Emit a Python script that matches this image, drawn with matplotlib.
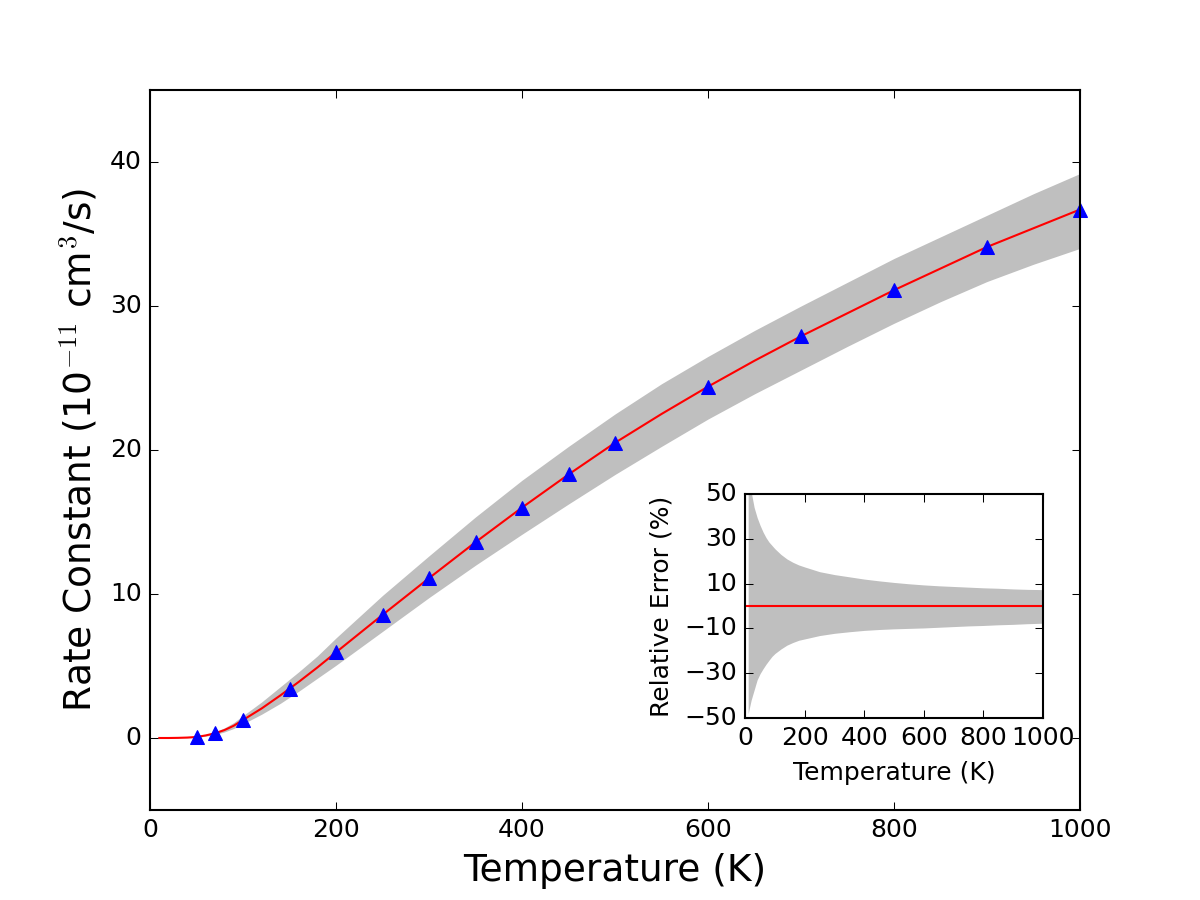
import numpy as np
import matplotlib
matplotlib.use("Agg")
import matplotlib.pyplot as plt

# measured rate constants (10^-11 cm^3/s)
T_pts = [50, 70, 100, 150, 200, 250, 300, 350, 400, 450, 500, 600, 700, 800, 900, 1000]
k_pts = [0.05, 0.35, 1.25, 3.4, 5.95, 8.55, 11.1, 13.6, 16.0, 18.3, 20.5, 24.4, 27.9, 31.1, 34.1, 36.7]

# fitted curve and its uncertainty band
T_fit = [10, 20, 30, 40, 50, 60, 70, 80, 90, 100, 120, 140, 160, 180, 200, 250, 300,
         350, 400, 450, 500, 550, 600, 650, 700, 750, 800, 850, 900, 950, 1000]
k_fit = [0.0, 0.0, 0.01, 0.03, 0.07, 0.18, 0.33, 0.55, 0.85, 1.25, 2.05, 2.95, 3.9, 4.9,
         5.95, 8.55, 11.1, 13.6, 16.0, 18.3, 20.5, 22.5, 24.4, 26.2, 27.9, 29.5, 31.1,
         32.6, 34.1, 35.4, 36.7]
k_hi = [0.0, 0.0, 0.015, 0.04, 0.10, 0.24, 0.43, 0.70, 1.07, 1.55, 2.5, 3.55, 4.6, 5.7,
        6.95, 9.9, 12.65, 15.35, 17.9, 20.25, 22.5, 24.6, 26.5, 28.3, 30.0, 31.65, 33.3,
        34.8, 36.3, 37.8, 39.2]
k_lo = [0.0, 0.0, 0.006, 0.02, 0.05, 0.13, 0.24, 0.42, 0.66, 0.98, 1.65, 2.4, 3.25, 4.15,
        5.05, 7.4, 9.75, 12.0, 14.15, 16.25, 18.3, 20.25, 22.15, 23.9, 25.55, 27.2, 28.8,
        30.3, 31.7, 32.9, 34.0]

# relative error of the fit (%)
err_up = [60, 51, 44, 39.5, 36, 33, 30.5, 28.5, 27, 25.5, 23, 21, 19.5, 18.3, 17.4, 15.3,
          14.0, 13.0, 12.0, 11.2, 10.5, 9.9, 9.4, 9.0, 8.7, 8.4, 8.1, 7.9, 7.6, 7.4, 7.3]
err_lo = [-48, -42, -37.5, -33, -30.2, -28, -26, -24.2, -22.5, -21.2, -19.2, -17.5, -16.3,
          -15.3, -14.7, -13.2, -12.2, -11.5, -10.9, -10.5, -10.2, -10.0, -9.8, -9.5, -9.2,
          -8.9, -8.7, -8.4, -8.2, -7.9, -7.7]

plt.style.use('classic')

fig = plt.figure(figsize=(8, 6), facecolor='white')
ax = fig.add_axes([0.125, 0.1, 0.775, 0.8])
ax.fill_between(T_fit, k_lo, k_hi, color='0.75', lw=0)
ax.plot(T_fit, k_fit, 'r-', lw=1)
ax.plot(T_pts, k_pts, 'b^', ms=7, mec='b', clip_on=False)
ax.set_xlim(0, 1000)
ax.set_ylim(-5, 45)
ax.set_xticks([0, 200, 400, 600, 800, 1000])
ax.set_yticks([0, 10, 20, 30, 40])
ax.set_xlabel('Temperature (K)', fontsize=18)
ax.set_ylabel(r'Rate Constant (10$^{-11}$ cm$^3$/s)', fontsize=18)

ins = fig.add_axes([0.621, 0.2022, 0.248, 0.249])
ins.fill_between(T_fit, err_lo, err_up, color='0.75', lw=0)
ins.plot([0, 1000], [0, 0], 'r-', lw=1)
ins.set_xlim(0, 1000)
ins.set_ylim(-50, 50)
ins.set_xticks([0, 200, 400, 600, 800, 1000])
ins.set_yticks([-50, -30, -10, 10, 30, 50])
ins.set_xlabel('Temperature (K)', fontsize=12)
ins.set_ylabel('Relative Error (%)', fontsize=12)

fig.savefig('out.png', dpi=150, facecolor='white')
